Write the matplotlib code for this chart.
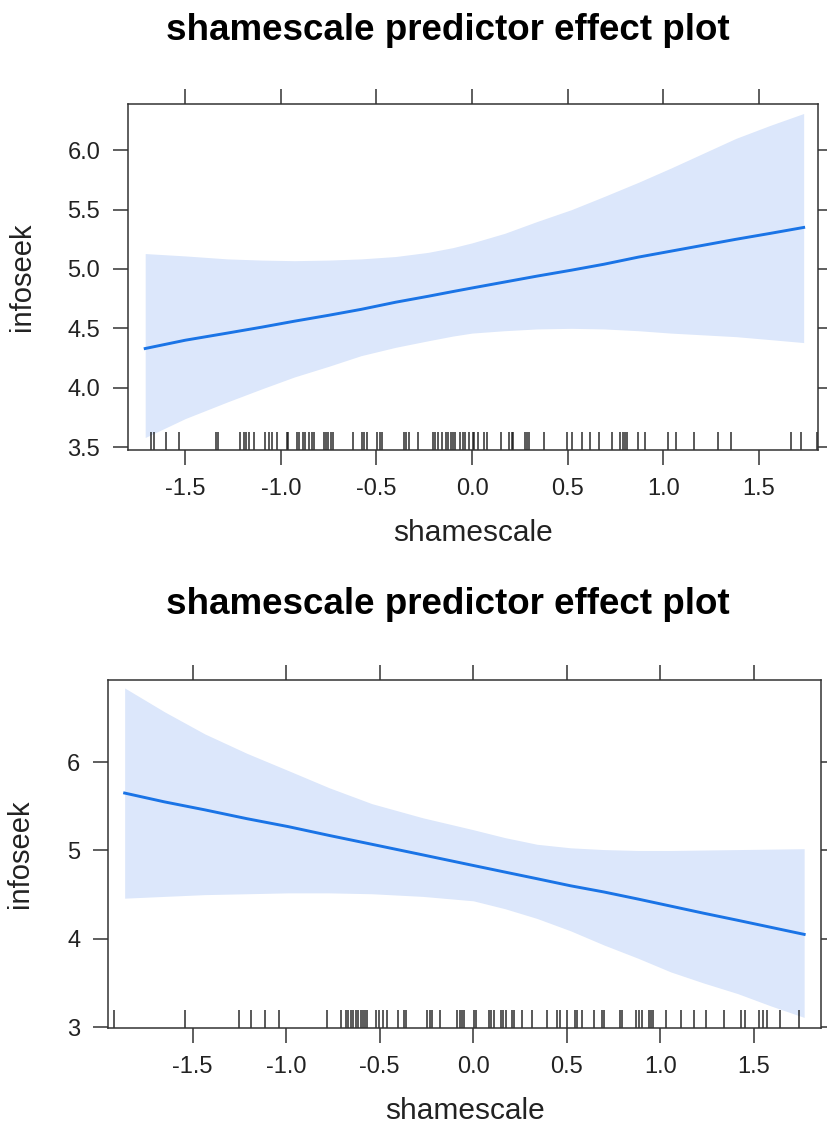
import numpy as np
import matplotlib.pyplot as plt
from matplotlib.ticker import FormatStrFormatter

plt.rcParams['font.family'] = ['Liberation Sans', 'DejaVu Sans']

# --- effect estimates, model 1 ---
x1 = [-1.71, -1.50, -1.28, -1.10, -0.93, -0.75, -0.58, -0.40, -0.23, -0.10, 0.0,
      0.17, 0.34, 0.52, 0.69, 0.87, 1.04, 1.21, 1.38, 1.56, 1.735]
fit1 = [4.33, 4.40, 4.46, 4.51, 4.56, 4.61, 4.66, 4.72, 4.77, 4.81, 4.84,
        4.89, 4.94, 4.99, 5.04, 5.10, 5.15, 5.20, 5.25, 5.30, 5.35]
upper1 = [5.13, 5.11, 5.085, 5.075, 5.07, 5.075, 5.085, 5.105, 5.14, 5.18, 5.22,
          5.30, 5.40, 5.50, 5.61, 5.73, 5.85, 5.975, 6.10, 6.21, 6.31]
lower1 = [3.58, 3.74, 3.88, 3.99, 4.09, 4.18, 4.27, 4.34, 4.395, 4.435, 4.46,
          4.48, 4.495, 4.50, 4.495, 4.48, 4.46, 4.445, 4.43, 4.405, 4.38]

rug1 = [-1.680, -1.663, -1.600, -1.531, -1.339, -1.327, -1.213, -1.192, -1.182,
        -1.165, -1.140, -1.083, -1.060, -1.048, -1.021, -0.969, -0.961, -0.917,
        -0.903, -0.885, -0.872, -0.851, -0.837, -0.825, -0.774, -0.764, -0.752,
        -0.739, -0.726, -0.624, -0.577, -0.563, -0.547, -0.498, -0.481, -0.469,
        -0.354, -0.345, -0.328, -0.281, -0.202, -0.194, -0.176, -0.158, -0.136,
        -0.124, -0.111, -0.098, -0.089, -0.063, -0.049, -0.037, -0.014, 0.004,
        0.010, 0.033, 0.063, 0.080, 0.150, 0.195, 0.208, 0.216, 0.277, 0.289,
        0.300, 0.377, 0.495, 0.521, 0.574, 0.617, 0.666, 0.731, 0.774, 0.788,
        0.800, 0.812, 0.870, 0.905, 1.027, 1.067, 1.161, 1.288, 1.353, 1.667,
        1.719, 1.803]

# --- effect estimates, model 2 ---
x2 = [-1.863, -1.65, -1.435, -1.21, -0.989, -0.77, -0.542, -0.27, 0.0, 0.17,
      0.341, 0.52, 0.698, 0.88, 1.055, 1.23, 1.412, 1.59, 1.768]
fit2 = [5.65, 5.55, 5.46, 5.36, 5.27, 5.17, 5.07, 4.95, 4.83, 4.755,
        4.68, 4.60, 4.53, 4.45, 4.37, 4.29, 4.21, 4.13, 4.05]
upper2 = [6.84, 6.57, 6.32, 6.10, 5.905, 5.71, 5.53, 5.37, 5.235, 5.145,
          5.07, 5.03, 5.01, 5.00, 5.00, 5.005, 5.01, 5.015, 5.02]
lower2 = [4.46, 4.48, 4.50, 4.51, 4.52, 4.52, 4.51, 4.48, 4.43, 4.34,
          4.23, 4.09, 3.93, 3.78, 3.625, 3.50, 3.38, 3.24, 3.11]

rug2 = [-1.922, -1.542, -1.251, -1.190, -1.113, -1.037, -0.783, -0.708, -0.680,
        -0.668, -0.655, -0.641, -0.626, -0.614, -0.601, -0.590, -0.578, -0.569,
        -0.519, -0.502, -0.483, -0.459, -0.400, -0.369, -0.359, -0.245, -0.230,
        -0.221, -0.177, -0.087, -0.073, -0.060, -0.048, 0.002, 0.016, 0.082,
        0.095, 0.109, 0.148, 0.159, 0.177, 0.207, 0.219, 0.261, 0.314, 0.395,
        0.448, 0.462, 0.502, 0.546, 0.555, 0.582, 0.644, 0.689, 0.698, 0.783,
        0.796, 0.867, 0.885, 0.903, 0.938, 0.947, 0.962, 1.028, 1.108, 1.179,
        1.242, 1.340, 1.429, 1.451, 1.527, 1.546, 1.568, 1.639, 1.741]

xticks = [-1.5, -1.0, -0.5, 0.0, 0.5, 1.0, 1.5]
yticks1 = [3.5, 4.0, 4.5, 5.0, 5.5, 6.0]
yticks2 = [3, 4, 5, 6]

line_col = '#1a74e6'
band_col = '#dce7fb'
frame_col = '#333333'

fig = plt.figure(figsize=(8.28, 11.25), dpi=100)
ax1 = fig.add_axes([128/828, 1-450/1125, 690/828, 346/1125])
ax2 = fig.add_axes([108/828, 1-1028/1125, 713/828, 348/1125])


def effect_panel(ax, x, fit, lo, hi, rug, xlim, ylim, yticks, yfmt):
    ax.fill_between(x, lo, hi, color=band_col, lw=0)
    ax.plot(x, fit, color=line_col, lw=2.1)
    ax.vlines(rug, 0, 0.052, transform=ax.get_xaxis_transform(),
              color='#111111', lw=1.3, alpha=0.75)
    ax.set_xlim(*xlim)
    ax.set_ylim(*ylim)
    ax.set_xticks(xticks)
    ax.set_yticks(yticks)
    ax.xaxis.set_major_formatter(FormatStrFormatter('%.1f'))
    ax.yaxis.set_major_formatter(FormatStrFormatter(yfmt))
    ax.tick_params(direction='out', length=11, width=1.1, color=frame_col,
                   labelsize=17, labelcolor='#222222', pad=9,
                   top=True, right=True)
    for s in ax.spines.values():
        s.set_color(frame_col)
        s.set_linewidth(1.1)
    ax.set_xlabel('shamescale', fontsize=21.5, color='#222222', labelpad=14)
    ax.set_ylabel('infoseek', fontsize=21, color='#222222')


effect_panel(ax1, x1, fit1, lower1, upper1, rug1,
             (-1.80, 1.81), (3.475, 6.39), yticks1, '%.1f')
effect_panel(ax2, x2, fit2, lower2, upper2, rug2,
             (-1.952, 1.858), (2.99, 6.93), yticks2, '%d')
ax1.yaxis.set_label_coords(-0.133, 0.5)
ax2.yaxis.set_label_coords(-0.104, 0.5)

fig.text(448/828, 1-30/1125, 'shamescale predictor effect plot',
         ha='center', va='center', fontsize=26.5, fontweight='bold')
fig.text(448/828, 1-604/1125, 'shamescale predictor effect plot',
         ha='center', va='center', fontsize=26.5, fontweight='bold')

fig.savefig('out.png', dpi=100)
